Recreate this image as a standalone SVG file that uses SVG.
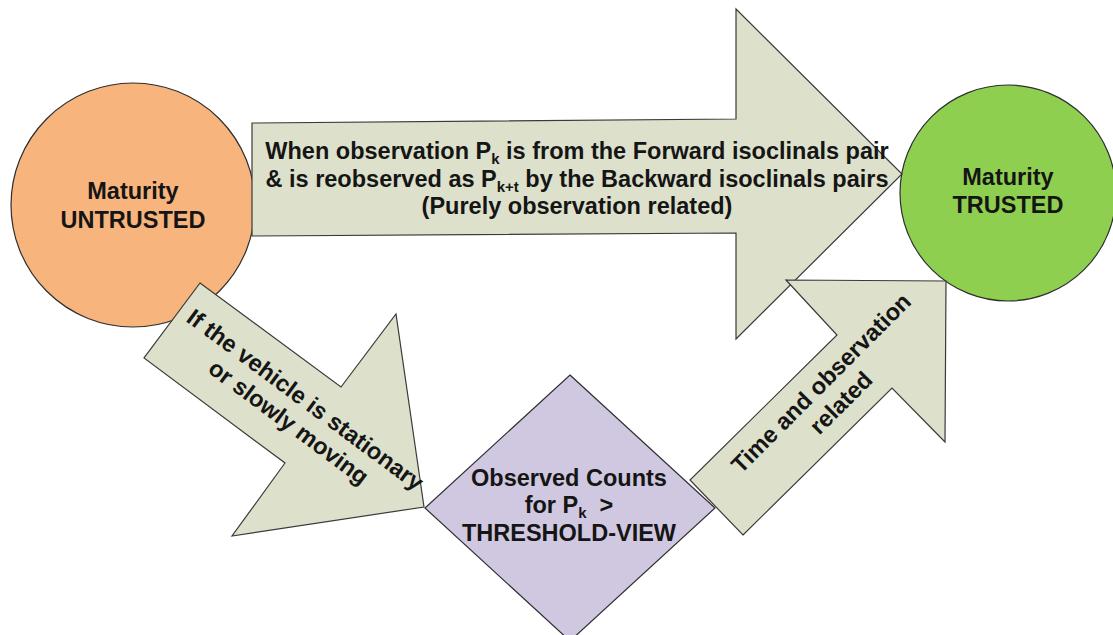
<svg xmlns="http://www.w3.org/2000/svg" width="1113" height="635" viewBox="0 0 1113 635">
<style>
.bg{fill:#ffffff}
.arrow{fill:#dde1cb;stroke:#3a3a3a;stroke-width:1.2;stroke-linejoin:miter}
.node{stroke:#2e2e2e;stroke-width:1.2}
.t{font-family:"Liberation Sans",Arial,sans-serif;font-weight:bold;font-size:23.5px;fill:#151515;text-anchor:middle}
.sub{font-size:15px}
</style>
<rect class="bg" x="0" y="0" width="1113" height="635"/>
<g id="untrusted">
<circle class="node" cx="133" cy="205" r="122" fill="#f7b47c"/>
<text class="t" x="133" y="199">Maturity</text>
<text class="t" x="133" y="228">UNTRUSTED</text>
</g>
<g id="trusted">
<circle class="node" cx="1008" cy="193" r="108" fill="#8fcf50"/>
<text class="t" x="1008" y="185">Maturity</text>
<text class="t" x="1008" y="213">TRUSTED</text>
</g>
<g id="connectors">
<g id="arrow-direct">
<polygon class="arrow" points="252,123 736,119 736,9 902,174 736,339 736,233 252,236"/>
<text class="t" x="577" y="159">When observation P<tspan class="sub" dy="5">k</tspan><tspan dy="-5"> is from the Forward isoclinals pair</tspan></text>
<text class="t" x="577" y="187">&amp; is reobserved as P<tspan class="sub" dy="5">k+t</tspan><tspan dy="-5"> by the Backward isoclinals pairs</tspan></text>
<text class="t" x="577" y="214">(Purely observation related)</text>
</g>
<g id="arrow-stationary">
<polygon class="arrow" points="200,283 341,387 396,314 424,507 232,536 285,463 144,358"/>
<g transform="translate(297,411) rotate(36.5)">
<text class="t" x="0" y="-6">If the vehicle is stationary</text>
<text class="t" x="0" y="22">or slowly moving</text>
</g>
</g>
<g id="arrow-time">
<polygon class="arrow" points="743,535 892,388 945,442 946,281 786,280 837,335 690,480"/>
<g transform="translate(831,393) rotate(-45)">
<text class="t" x="0" y="-6">Time and observation</text>
<text class="t" x="0" y="22">related</text>
</g>
</g>
</g>
<g id="threshold">
<polygon class="node" points="570,375 715,508 570,641 425,508" fill="#d0c8e0"/>
<text class="t" x="569" y="486">Observed Counts</text>
<text class="t" x="569" y="513">for P<tspan class="sub" dy="5">k</tspan><tspan dy="-5">&#160; &gt;</tspan></text>
<text class="t" x="569" y="541">THRESHOLD-VIEW</text>
</g>
</svg>
